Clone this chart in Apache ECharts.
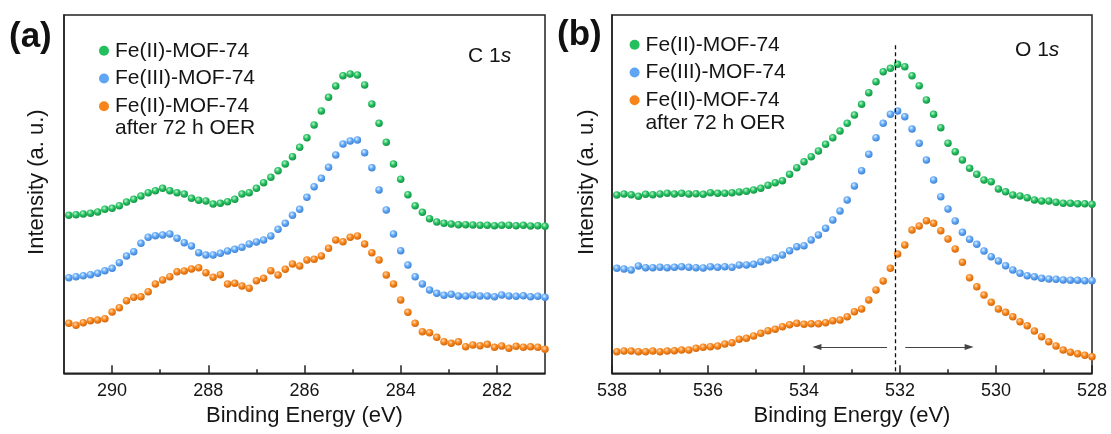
<!DOCTYPE html>
<html>
<head>
<meta charset="utf-8">
<script src="https://cdn.jsdelivr.net/npm/echarts@6/dist/echarts.min.js"></script>
<style>html,body{margin:0;padding:0;background:#fff;}#c{width:1111px;height:434px;}</style>
</head>
<body>
<div id="c"></div>
<script>
// ---------- data ----------
const seriesNames = ['Fe(II)-MOF-74', 'Fe(III)-MOF-74', 'Fe(II)-MOF-74 after 72 h OER'];

// Panel (a) C 1s — binding energy (eV)
const energyC = [290.90,290.75,290.60,290.45,290.30,290.15,290.00,289.85,289.70,289.55,
 289.40,289.25,289.10,288.95,288.80,288.65,288.50,288.35,288.20,288.05,
 287.90,287.75,287.60,287.45,287.30,287.15,287.00,286.85,286.70,286.55,
 286.40,286.25,286.10,285.95,285.80,285.65,285.50,285.35,285.20,285.05,
 284.90,284.75,284.60,284.45,284.30,284.15,284.00,283.85,283.70,283.55,
 283.40,283.25,283.10,282.95,282.80,282.65,282.50,282.35,282.20,282.05,
 281.90,281.75,281.60,281.45,281.30,281.15,281.00];
const c1sFeII = [158,158.6,159.3,160,161.3,164,165,167.6,171.3,174,
 177.3,180.6,182.6,185,182.6,180.6,179.3,175,173,172.3,
 169.3,170,171.6,174,179.3,180.6,185,190.6,196,202.6,
 209.3,216.6,226,235.6,248.3,262.3,276,287.3,297.6,299.3,
 298.3,288.3,269.3,250,231,209.3,194,178.6,167.6,161,
 154.6,151.3,150,149.3,148.6,148.6,148.3,148,148,147.6,
 148,148,147.5,148,147.3,147.6,147];
const c1sFeIII = [95.6,96.6,97.6,98.6,100,102.6,105,110.6,117.3,121.6,
 130,136,137.6,138.3,139.3,135,130.6,127.3,120.6,118.3,
 118.3,120,122.3,124,126,129.3,131.3,133.3,137.3,144,
 150,158,164,176,186.6,195,206,218.3,229.3,232.3,
 233.3,220.6,205.6,183.3,163.3,139.3,122.6,108.3,96.6,89.3,
 83.3,80,78,79,77.3,77.3,78.3,77.3,77.3,76.6,
 78.3,77.3,77,77.5,76.5,77,76];
const c1sAfterOER = [50,48,50.6,52.6,53.3,54.6,61.3,65.6,72.6,76,
 76.6,81.6,89.3,93.3,96.6,101.6,102.3,104.3,105.6,100.6,
 96,98.6,89.3,90,87.3,85,92.6,95,102.6,98.3,
 104,109.3,107.3,113.3,114,117.3,125,133.3,131.6,136,
 137.3,129.3,120.6,113.3,98.3,89.3,73.3,61,50,41.6,
 40.6,36,31.6,30,31.6,26.6,28.3,27.6,29,26,
 27.3,25,27,26,26.5,26,24];

// Panel (b) O 1s — binding energy (eV)
const energyO = [537.90,537.75,537.60,537.45,537.30,537.15,537.00,536.85,536.70,536.55,
 536.40,536.25,536.10,535.95,535.80,535.65,535.50,535.35,535.20,535.05,
 534.90,534.75,534.60,534.45,534.30,534.15,534.00,533.85,533.70,533.55,
 533.40,533.25,533.10,532.95,532.80,532.65,532.50,532.35,532.20,532.05,
 531.90,531.75,531.60,531.45,531.30,531.15,531.00,530.85,530.70,530.55,
 530.40,530.25,530.10,529.95,529.80,529.65,529.50,529.35,529.20,529.05,
 528.90,528.75,528.60,528.45,528.30,528.15,528.00];
const o1sFeII = [178.3,179.3,178.6,177,179,178.6,179.3,180,179.3,180,
 179.3,179.6,179,180.6,180,180,180.6,181.3,182,183.3,
 185,188,190.6,192.6,199,205.6,211.6,216.6,222.3,229,
 235.6,242.3,250,258.3,269,280.6,291.6,301.6,305,309,
 306.6,297.6,287.6,273.3,259,245.6,230,221.6,213.3,205,
 199,193.3,191.6,184.3,181.6,178.3,177.3,175.6,173.3,172.3,
 172.3,171,170,170,169.5,169.5,169];
const o1sFeIII = [105,104.3,103.3,107.3,105.6,105.6,106,105.6,106,106.6,
 106,105.6,105.3,106.6,106,106.6,106,108.3,108.3,109,
 111.6,113.3,115.6,118.3,122.5,126.5,127.6,133.3,138.3,145,
 153.3,162.3,173.3,187.3,202.6,219,235.6,250,259,262.3,
 256.6,244.3,230,213.3,193.3,176.6,164.3,152.3,141,134,
 129,122.3,116.6,112.3,107.6,103.3,100,97.6,96.6,95,
 94.3,94,93.3,93,93,92.6,92.6];
const o1sAfterOER = [21.6,22.3,22.3,21.6,21.6,22.3,21.6,22.3,22.6,23.3,
 23.3,25,26,26.6,27.3,29.3,30.6,34,35,37.3,
 40,42.6,44,46.6,48.6,50,49,49.6,49.6,50.6,
 52.6,53.3,56.6,61.6,64.3,73.3,83.3,92.3,105,119.3,
 128.3,143.3,147.3,152.6,150,142.6,134.3,124.3,111,95.6,
 86.6,78.3,71,64.3,61,56.6,51.6,47.6,42.3,36.6,
 31.6,27.3,23.3,21,19.5,18,16.6];

// axis ticks
const ticksC = [282, 284, 286, 288, 290];
const minorTicksC = [283, 285, 287, 289];
// annotations in panel (b)
const refEnergyO = 532.1;
const arrowLeft = [532.27, 533.73];
const arrowRight = [531.89, 530.56];
const arrowLevel = 26.3;
const dashTop = 328;

// ---------- styling ----------
const FONT = '"Liberation Sans", Arial, Helvetica, sans-serif';
const TXT = '#151515';
const AX = '#222';
const flat = ['#22bf5c', '#5ea6f4', '#f7851b'];
const ballColors = [
  ['#c2f2d2', '#26c261', '#0f8c41'],
  ['#e0eeff', '#61a9f6', '#3a7dcf'],
  ['#ffd9b3', '#f8871d', '#cf6105']
];
function ball(i) {
  const c = ballColors[i];
  return { type: 'radial', x: 0.4, y: 0.35, r: 0.7,
    colorStops: [{ offset: 0, color: c[0] }, { offset: 0.45, color: c[1] }, { offset: 1, color: c[2] }] };
}
function zip(xs, ys) { return xs.map((x, i) => [x, ys[i]]); }

const chart = echarts.init(document.getElementById('c'), null, { renderer: 'canvas' });

const gridA = { left: 64, right: 566, top: 15, bottom: 60.7 };
const gridB = { left: 612, right: 19, top: 15, bottom: 60.7 };

function yAxisCfg(gi, gap) {
  return {
    type: 'value', gridIndex: gi, min: 0, max: 358.3,
    axisLine: { show: true, lineStyle: { color: AX, width: 1.5 } },
    axisTick: { show: false }, axisLabel: { show: false }, splitLine: { show: false },
    name: 'Intensity (a. u.)', nameLocation: 'middle', nameGap: gap,
    nameTextStyle: { fontFamily: FONT, fontSize: 22, color: TXT, padding: [0, 0, 0, 24] }
  };
}
const nameStyle = { fontFamily: FONT, fontSize: 22, color: TXT };
const labelStyle = { fontFamily: FONT, fontSize: 18, color: TXT, margin: 9 };

const xAxes = [
  { // panel a main
    type: 'value', gridIndex: 0, min: 281, max: 291, inverse: true, position: 'bottom',
    axisLine: { show: true, lineStyle: { color: AX, width: 1.5 } },
    axisTick: { show: true, inside: true, length: 8, customValues: ticksC, lineStyle: { color: AX, width: 1.5 } },
    axisLabel: Object.assign({ customValues: ticksC }, labelStyle),
    splitLine: { show: false },
    name: 'Binding Energy (eV)', nameLocation: 'middle', nameGap: 31, nameTextStyle: nameStyle
  },
  { // panel a minor ticks
    type: 'value', gridIndex: 0, min: 281, max: 291, inverse: true, position: 'bottom', offset: 0,
    axisLine: { show: false },
    axisTick: { show: true, inside: true, length: 4, customValues: minorTicksC, lineStyle: { color: AX, width: 1.5 } },
    axisLabel: { show: false }, splitLine: { show: false }
  },
  { // panel b
    type: 'value', gridIndex: 1, min: 528, max: 538, interval: 2, inverse: true, position: 'bottom',
    axisLine: { show: true, lineStyle: { color: AX, width: 1.5 } },
    axisTick: { show: true, inside: true, length: 8, lineStyle: { color: AX, width: 1.5 } },
    minorTick: { show: true, splitNumber: 2, length: 4, lineStyle: { color: AX, width: 1.5 } },
    axisLabel: Object.assign({ showMinLabel: true, showMaxLabel: true }, labelStyle),
    splitLine: { show: false }, minorSplitLine: { show: false },
    name: 'Binding Energy (eV)', nameLocation: 'middle', nameGap: 31, nameTextStyle: nameStyle
  }
];

function scatter(name, idx, xAxisIndex, yAxisIndex, data, extra) {
  return Object.assign({
    type: 'scatter', name: name, xAxisIndex: xAxisIndex, yAxisIndex: yAxisIndex,
    data: data, symbol: 'circle', symbolSize: 7.5,
    itemStyle: { color: ball(idx), opacity: 1 },
    emphasis: { disabled: true }, silent: true, animation: false
  }, extra || {});
}

const markLineB = {
  silent: true, animation: false, label: { show: false }, emphasis: { disabled: true },
  data: [
    [{ coord: [refEnergyO, dashTop], symbol: 'none', lineStyle: { type: [4, 3], color: '#111', width: 1.3 } },
     { coord: [refEnergyO, 0], symbol: 'none' }],
    [{ coord: [arrowLeft[0], arrowLevel], symbol: 'none', lineStyle: { type: 'solid', color: '#444', width: 1.2 } },
     { coord: [arrowLeft[1], arrowLevel], symbol: 'triangle', symbolSize: [6, 9] }],
    [{ coord: [arrowRight[0], arrowLevel], symbol: 'none', lineStyle: { type: 'solid', color: '#444', width: 1.2 } },
     { coord: [arrowRight[1], arrowLevel], symbol: 'triangle', symbolSize: [6, 9] }]
  ]
};

function legendCfg(left, top) {
  return {
    orient: 'vertical', left: left, top: top, itemWidth: 10, itemHeight: 10, itemGap: 6.7,
    icon: 'circle', selectedMode: false,
    data: seriesNames.map((n, i) => ({ name: n, itemStyle: { color: flat[i] } })),
    formatter: n => n === seriesNames[2] ? 'Fe(II)-MOF-74' : n,
    textStyle: { fontFamily: FONT, fontSize: 21, color: TXT, lineHeight: 20, padding: [0, 0, 0, 1] }
  };
}

function label(x, y, text, extra) {
  return { type: 'text', x: x, y: y, silent: true,
    style: Object.assign({ text: text, fill: TXT, font: '21px ' + FONT, verticalAlign: 'middle' }, extra || {}) };
}

const option = {
  backgroundColor: '#fff',
  animation: false,
  grid: [
    Object.assign({ show: true, borderColor: AX, borderWidth: 1.5, backgroundColor: 'transparent' }, gridA),
    Object.assign({ show: true, borderColor: AX, borderWidth: 1.5, backgroundColor: 'transparent' }, gridB)
  ],
  xAxis: xAxes,
  yAxis: [yAxisCfg(0, 16), yAxisCfg(1, 14)],
  legend: [legendCfg(94, 35.3), legendCfg(624.6, 29.3)],
  series: [
    scatter(seriesNames[0], 0, 0, 0, zip(energyC, c1sFeII)),
    scatter(seriesNames[1], 1, 0, 0, zip(energyC, c1sFeIII)),
    scatter(seriesNames[2], 2, 0, 0, zip(energyC, c1sAfterOER)),
    scatter(seriesNames[0], 0, 2, 1, zip(energyO, o1sFeII)),
    scatter(seriesNames[1], 1, 2, 1, zip(energyO, o1sFeIII)),
    scatter(seriesNames[2], 2, 2, 1, zip(energyO, o1sAfterOER), { markLine: markLineB })
  ],
  graphic: [
    label(115, 128.3, 'after 72 h OER'),
    label(645.4, 123.3, 'after 72 h OER'),
    { type: 'text', x: 468, y: 56, silent: true, style: {
      text: '{r|C 1}{i|s}', verticalAlign: 'middle',
      rich: { r: { fontFamily: FONT, fontSize: 21, fill: TXT, color: TXT }, i: { fontFamily: FONT, fontSize: 21, fontStyle: 'italic', fill: TXT, color: TXT } } } },
    { type: 'text', x: 1015, y: 50, silent: true, style: {
      text: '{r|O 1}{i|s}', verticalAlign: 'middle',
      rich: { r: { fontFamily: FONT, fontSize: 21, fill: TXT, color: TXT }, i: { fontFamily: FONT, fontSize: 21, fontStyle: 'italic', fill: TXT, color: TXT } } } },
    label(9, 37, '(a)', { font: 'bold 35px ' + FONT, fill: '#111' }),
    label(557, 35, '(b)', { font: 'bold 35px ' + FONT, fill: '#111' })
  ]
};
chart.setOption(option);
</script>
</body>
</html>
